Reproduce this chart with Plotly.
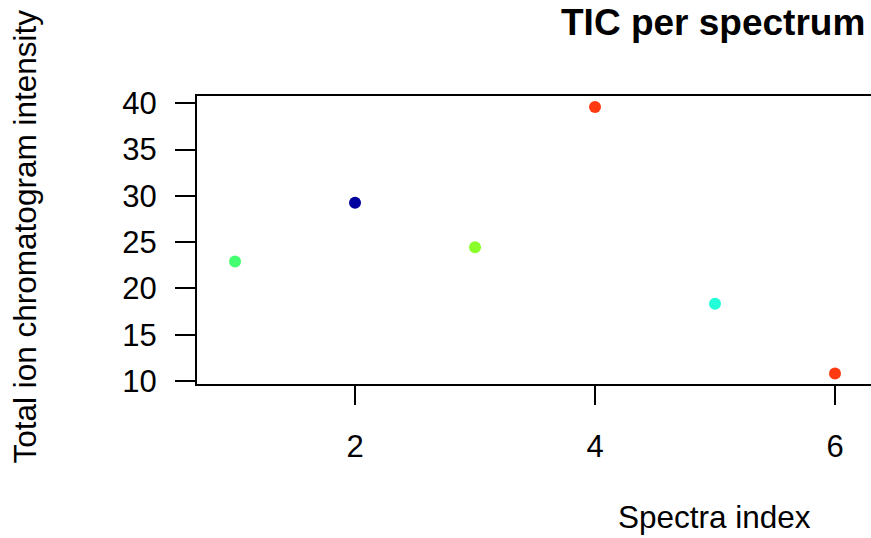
import plotly.graph_objects as go

spectra_index = [1, 2, 3, 4, 5, 6]
tic_values = [22.9, 29.25, 24.45, 39.6, 18.35, 10.8]
point_colors = ["#44FF71", "#00009F", "#8AFF2A", "#FF3A10", "#20FFD8", "#FF3A10"]
y_ticks = [10, 15, 20, 25, 30, 35, 40]
x_ticks = [2, 4, 6]

FONT = "Liberation Sans, Arial, sans-serif"

fig = go.Figure()
fig.add_trace(go.Scatter(
    x=spectra_index, y=tic_values, mode="markers",
    marker=dict(color=point_colors, size=12, line=dict(width=0)),
    showlegend=False, cliponaxis=False, hoverinfo="skip",
))

W, H = 871, 538
plot_left, plot_top, plot_bottom = 197, 96, 384
L, T, B, R = plot_left, plot_top, H - plot_bottom, 0
pw, ph = W - L - R, H - T - B

def px_x(p):
    return (p - plot_left) / pw

def px_y(p):
    return (plot_bottom - p) / ph

fig.update_layout(
    width=W, height=H,
    margin=dict(l=L, r=R, t=T, b=B, pad=0),
    paper_bgcolor="white", plot_bgcolor="white",
    font=dict(family=FONT, size=31, color="black"),
    xaxis=dict(
        range=[0.683, 6.3], tickmode="array", tickvals=x_ticks,
        ticktext=[str(v) for v in x_ticks],
        ticks="outside", ticklen=19, tickwidth=2, tickcolor="black",
        showline=True, linewidth=2, linecolor="black", mirror=True,
        showgrid=False, zeroline=False, ticklabelstandoff=15,
        tickfont=dict(size=31),
    ),
    yaxis=dict(
        range=[9.676, 40.79], tickmode="array", tickvals=y_ticks,
        ticktext=[str(v) for v in y_ticks],
        ticks="outside", ticklen=20, tickwidth=2, tickcolor="black",
        showline=True, linewidth=2, linecolor="black", mirror=False,
        showgrid=False, zeroline=False, ticklabelstandoff=12,
        tickfont=dict(size=31),
    ),
    annotations=[
        dict(text="<b>TIC per spectrum</b>", xref="paper", yref="paper",
             x=px_x(867), y=px_y(22), xanchor="right", yanchor="middle",
             showarrow=False, font=dict(size=37, family=FONT)),
        dict(text="Spectra index", xref="paper", yref="paper",
             x=px_x(714), y=px_y(517), xanchor="center", yanchor="middle",
             showarrow=False, font=dict(size=31.5, family=FONT)),
        dict(text="Total ion chromatogram intensity", xref="paper", yref="paper",
             x=px_x(24), y=px_y(236.5), xanchor="center", yanchor="middle",
             textangle=-90, showarrow=False, font=dict(size=31.5, family=FONT)),
    ],
)

fig.write_html(
    "out.html",
    config={"displayModeBar": False, "staticPlot": True},
    post_script="document.body.style.margin='0';document.body.style.overflow='hidden';",
)
